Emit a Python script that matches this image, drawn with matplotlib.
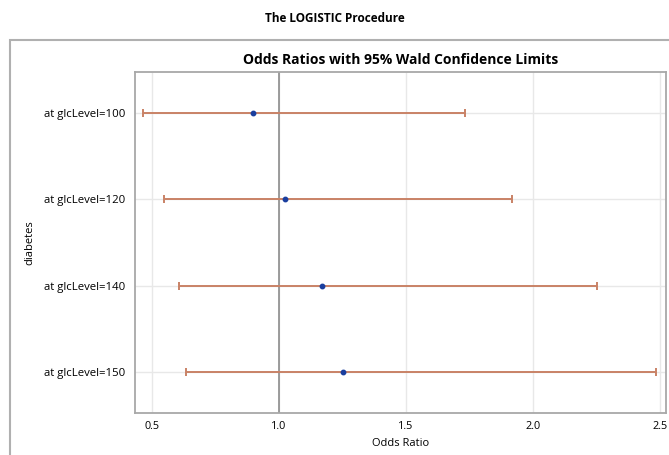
import numpy as np
import matplotlib
matplotlib.use("Agg")
import matplotlib.pyplot as plt
from matplotlib.patches import Rectangle

plt.rcParams['font.family'] = ['Open Sans', 'DejaVu Sans']

labels = ["at glcLevel=100", "at glcLevel=120", "at glcLevel=140", "at glcLevel=150"]
odds = [0.898, 1.024, 1.169, 1.252]
lower = [0.466, 0.548, 0.606, 0.634]
upper = [1.730, 1.917, 2.252, 2.484]
xticks = [0.5, 1.0, 1.5, 2.0, 2.5]

fig = plt.figure(figsize=(6.69, 4.55), dpi=100)

# outer SAS frame
frame = Rectangle((10/669, -0.1), 1.0, 1 - 40/455 + 0.1, transform=fig.transFigure,
                  fill=False, edgecolor='#b0b0b0', linewidth=1.5)
fig.patches.append(frame)

fig.text(0.5, 1 - 18/455, "The LOGISTIC Procedure", ha='center', va='center',
         fontsize=8.5, fontweight='bold')

ax = fig.add_axes([135/669, 1 - 413/455, 531/669, 341/455])
y = np.arange(len(labels))
err = [np.array(odds) - np.array(lower), np.array(upper) - np.array(odds)]
ax.errorbar(odds, y, xerr=err, fmt='none', ecolor='#c98266', elinewidth=1.4,
            capsize=3, capthick=1.4, zorder=3)
ax.plot(odds, y, 'o', color='#1a3e9e', markersize=3.2, zorder=4)
ax.axvline(1.0, color='#8c8c8c', linewidth=1.2, zorder=2)

ax.set_xlim(0.433, 2.523)
ax.set_ylim(len(labels) - 1 + 0.48, -0.48)
ax.set_yticks(y)
ax.set_yticklabels(labels)
ax.set_xticks(xticks)
ax.set_xticklabels(["%.1f" % t for t in xticks])
ax.grid(True, color='#e8e8e8', linewidth=1.0, zorder=0)
ax.set_axisbelow(True)
ax.tick_params(axis='y', length=0, labelsize=8.2, pad=7)
ax.tick_params(axis='x', length=0, labelsize=7.8, pad=6)
for s in ax.spines.values():
    s.set_color('#a8a8a8')
    s.set_linewidth(1.3)
ax.set_xlabel("Odds Ratio", fontsize=8, labelpad=4)
ax.set_ylabel("diabetes", fontsize=8)
ax.yaxis.set_label_coords(-0.188, 0.5)
ax.set_title("Odds Ratios with 95% Wald Confidence Limits", fontsize=10,
             fontweight='bold', pad=6)

fig.savefig("out.png", dpi=100)
